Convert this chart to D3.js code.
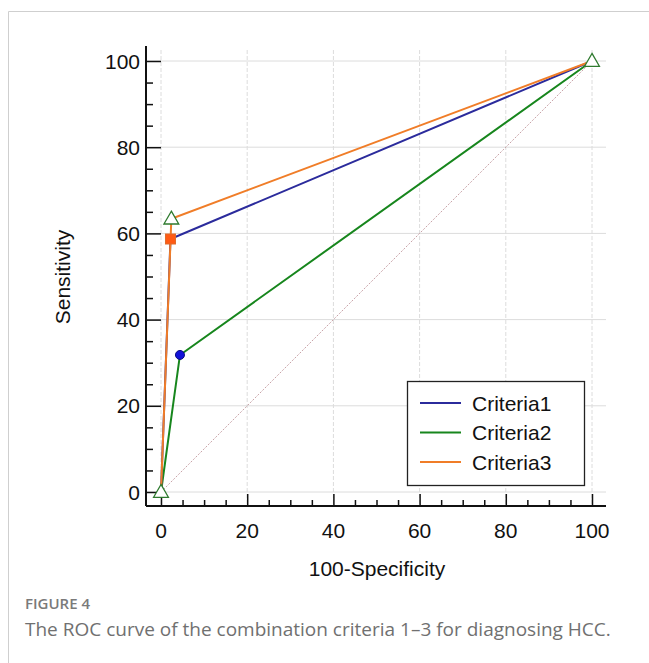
<!DOCTYPE html>
<html>
<head>
<meta charset="utf-8">
<script src="https://cdn.jsdelivr.net/npm/d3@7"></script>
<style>
  body { margin: 0; background: #fff; }
  svg text { font-family: "Liberation Sans", Arial, sans-serif; }
</style>
</head>
<body>
<script>
var w = 649;
var h = 663;

// Data
var seriesNames = ["Criteria1", "Criteria2", "Criteria3"];
var criteria1 = [[0, 0], [2.2, 58.7], [100, 100]];
var criteria2 = [[0, 0], [4.4, 31.8], [100, 100]];
var criteria3 = [[0, 0], [2.4, 63.4], [100, 100]];
var tickValues = [0, 20, 40, 60, 80, 100];
var minorTicks = d3.range(5, 100, 5).filter(function (d) { return d % 20 !== 0; });

var colors = ["#2b2b9c", "#17861d", "#f07d28"];

var svg = d3.select("body").append("svg")
    .attr("width", w)
    .attr("height", h);

// outer frame
svg.append("path")
    .attr("d", "M8.5," + (h + 2) + "V11.5H" + (w + 2))
    .attr("fill", "none")
    .attr("stroke", "#cfcfcf")
    .attr("stroke-width", 1);

var xScale = d3.scaleLinear().domain([0, 100]).range([161, 592]);
var yScale = d3.scaleLinear().domain([0, 100]).range([492, 61]);

var axisX = 146;   // y axis line
var axisY = 506;   // x axis line

// grid
svg.append("g").selectAll("line")
    .data(tickValues)
    .enter().append("line")
    .attr("x1", function (d) { return xScale(d); })
    .attr("x2", function (d) { return xScale(d); })
    .attr("y1", 50)
    .attr("y2", axisY)
    .attr("stroke", "#dcdcdc")
    .attr("stroke-dasharray", "4,2");

svg.append("g").selectAll("line")
    .data(tickValues)
    .enter().append("line")
    .attr("x1", axisX)
    .attr("x2", 606)
    .attr("y1", function (d) { return yScale(d); })
    .attr("y2", function (d) { return yScale(d); })
    .attr("stroke", "#dcdcdc");

// diagonal reference
svg.append("line")
    .attr("x1", xScale(0)).attr("y1", yScale(0))
    .attr("x2", xScale(100)).attr("y2", yScale(100))
    .attr("stroke", "#c9a3a8")
    .attr("stroke-width", 1)
    .attr("stroke-dasharray", "2,1.5");

// axes (inward ticks)
var xAxis = d3.axisTop(xScale).tickValues(tickValues).tickSize(12).tickFormat("");
var xMinor = d3.axisTop(xScale).tickValues(minorTicks).tickSize(6).tickFormat("");
var yAxis = d3.axisRight(yScale).tickValues(tickValues).tickSize(15).tickFormat("");
var yMinor = d3.axisRight(yScale).tickValues(minorTicks).tickSize(7).tickFormat("");

[xAxis, xMinor].forEach(function (ax) {
    var g = svg.append("g").attr("transform", "translate(0," + axisY + ")").call(ax);
    g.select(".domain").remove();
    g.selectAll("line").attr("stroke", "#111").attr("stroke-width", 1.5);
});
[yAxis, yMinor].forEach(function (ax) {
    var g = svg.append("g").attr("transform", "translate(" + axisX + ",0)").call(ax);
    g.select(".domain").remove();
    g.selectAll("line").attr("stroke", "#111").attr("stroke-width", 1.5);
});

svg.append("line")
    .attr("x1", axisX).attr("x2", 606)
    .attr("y1", axisY).attr("y2", axisY)
    .attr("stroke", "#111").attr("stroke-width", 2);
svg.append("line")
    .attr("x1", axisX).attr("x2", axisX)
    .attr("y1", 46).attr("y2", axisY)
    .attr("stroke", "#111").attr("stroke-width", 2);

// tick labels
svg.append("g").selectAll("text")
    .data(tickValues)
    .enter().append("text")
    .attr("x", function (d) { return xScale(d); })
    .attr("y", 538)
    .attr("text-anchor", "middle")
    .attr("font-size", 21)
    .attr("fill", "#111")
    .text(function (d) { return d; });

svg.append("g").selectAll("text")
    .data(tickValues)
    .enter().append("text")
    .attr("x", 140)
    .attr("y", function (d) { return yScale(d) + 7.5; })
    .attr("text-anchor", "end")
    .attr("font-size", 21)
    .attr("fill", "#111")
    .text(function (d) { return d; });

// axis titles
svg.append("text")
    .attr("x", 377)
    .attr("y", 576)
    .attr("text-anchor", "middle")
    .attr("font-size", 21)
    .attr("fill", "#111")
    .text("100-Specificity");

svg.append("text")
    .attr("transform", "translate(70,277) rotate(-90)")
    .attr("text-anchor", "middle")
    .attr("font-size", 21)
    .attr("fill", "#111")
    .text("Sensitivity");

// curves
var line = d3.line()
    .x(function (d) { return xScale(d[0]); })
    .y(function (d) { return yScale(d[1]); });

var series = [criteria2, criteria1, criteria3];
var seriesColors = [colors[1], colors[0], colors[2]];
series.forEach(function (s, i) {
    svg.append("path")
        .datum(s)
        .attr("d", line)
        .attr("fill", "none")
        .attr("stroke", seriesColors[i])
        .attr("stroke-width", 2);
});

// markers
// Criteria1 - orange square
svg.append("rect")
    .attr("x", xScale(criteria1[1][0]) - 5)
    .attr("y", yScale(criteria1[1][1]) - 5)
    .attr("width", 10)
    .attr("height", 10)
    .attr("fill", "#ff5a14")
    .attr("stroke", "#e06a2a");

// Criteria2 - blue dot
svg.append("circle")
    .attr("cx", xScale(criteria2[1][0]))
    .attr("cy", yScale(criteria2[1][1]))
    .attr("r", 4.5)
    .attr("fill", "#1212d8")
    .attr("stroke", "#0a0a80");

// Criteria3 - hollow triangles
var tri = d3.symbol().type(d3.symbolTriangle).size(95);
svg.append("g").selectAll("path")
    .data(criteria3)
    .enter().append("path")
    .attr("transform", function (d) { return "translate(" + xScale(d[0]) + "," + (yScale(d[1]) + 1) + ")"; })
    .attr("d", tri)
    .attr("fill", "#fff")
    .attr("stroke", "#2e7a2e")
    .attr("stroke-width", 1.3);

// legend
var lg = svg.append("g").attr("transform", "translate(407,381)");
lg.append("rect")
    .attr("x", 0.5).attr("y", 0.5)
    .attr("width", 177).attr("height", 104)
    .attr("fill", "#fff")
    .attr("stroke", "#222")
    .attr("stroke-width", 1.3);
seriesNames.forEach(function (name, i) {
    var y = 22 + i * 29.5;
    lg.append("line")
        .attr("x1", 13).attr("x2", 54)
        .attr("y1", y).attr("y2", y)
        .attr("stroke", colors[i])
        .attr("stroke-width", 2);
    lg.append("text")
        .attr("x", 65)
        .attr("y", y + 7.5)
        .attr("font-size", 21)
        .attr("fill", "#111")
        .text(name);
});

// caption
svg.append("text")
    .attr("x", 25)
    .attr("y", 609)
    .attr("font-size", 15)
    .attr("font-weight", 600)
    .attr("fill", "#7a7a7a")
    .style("font-family", "'Open Sans', sans-serif")
    .text("FIGURE 4");

svg.append("text")
    .attr("x", 25)
    .attr("y", 636)
    .attr("font-size", 19)
    .attr("fill", "#707070")
    .style("font-family", "'Open Sans', sans-serif")
    .text("The ROC curve of the combination criteria 1\u20133 for diagnosing HCC.");
</script>
</body>
</html>
